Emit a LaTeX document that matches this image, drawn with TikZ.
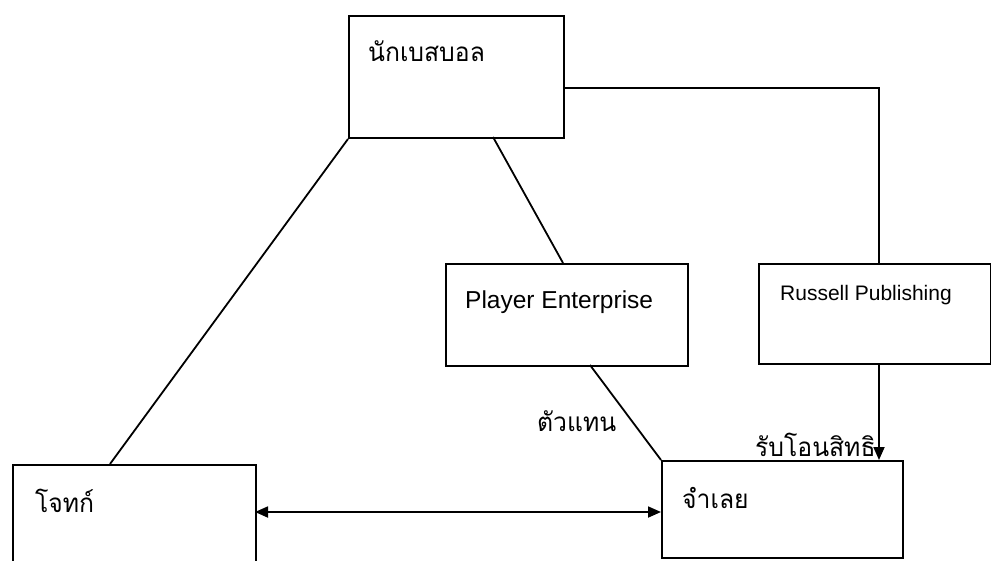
\documentclass[tikz,border=0pt]{standalone}
\usepackage{fontspec}
\setmainfont{Liberation Sans}
\newfontfamily\thaifont[Script=Thai,FakeStretch=0.95]{Loma}
\usetikzlibrary{arrows.meta,calc}
\begin{document}
\begin{tikzpicture}[x=1pt,y=-1pt,
  box/.style={draw,line width=2pt,inner sep=0pt,anchor=north west},
  conn/.style={line width=1.8pt},
  thai/.style={font=\thaifont\fontsize{26}{30}\selectfont,inner sep=0pt,anchor=west},
  latin/.style={inner sep=0pt,anchor=west},
  tip/.style={-{Triangle[length=13pt,width=11pt]}}]
\clip (0,0) rectangle (991,560);
\fill[white] (0,0) rectangle (991,560);
% boxes
\node[box,minimum width=215pt,minimum height=122pt] (player) at (348,15) {};
\node[box,minimum width=242pt,minimum height=102pt] (agent) at (445,263) {};
\node[box,minimum width=232pt,minimum height=100pt] (russell) at (758,263) {};
\node[box,minimum width=243pt,minimum height=105pt] (plaintiff) at (12,464) {};
\node[box,minimum width=241pt,minimum height=97pt] (defendant) at (661,460) {};
% texts
\node[thai] (t1) at (368,51) {นักเบสบอล};
\node[latin,font=\fontsize{24.5}{28}\selectfont] (t2) at (465,302) {Player Enterprise};
\node[latin,font=\fontsize{21}{24}\selectfont] (t3) at (780,295) {Russell Publishing};
\node[thai] (t4) at (35,501) {โจทก์};
\node[thai] (t5) at (682,498) {จำเลย};
\node[thai] (l1) at (537,421) {ตัวแทน};
\node[thai] (l2) at (755,445) {รับโอนสิทธิ};
% connection points
\coordinate (p1) at (110,464);
\coordinate (p2) at (493,137);
\coordinate (p3) at (563,263);
\coordinate (p4) at (590,365);
\coordinate (p5) at (563,88);
\coordinate (p6) at (879,263);
\coordinate (p7) at (879,363);
\coordinate (p8) at (879,460);
\coordinate (p9) at (255,512);
\coordinate (p10) at (661,512);
% connectors
\draw[conn] (player.south west) -- (p1);
\draw[conn] (p2) -- (p3);
\draw[conn] (p4) -- (defendant.north west);
\draw[conn] (p5) -| (p6);
\draw[conn,tip] (p7) -- (p8);
\draw[conn,{Triangle[length=13pt,width=11pt]}-{Triangle[length=13pt,width=11pt]}] (p9) -- (p10);
\end{tikzpicture}
\end{document}
